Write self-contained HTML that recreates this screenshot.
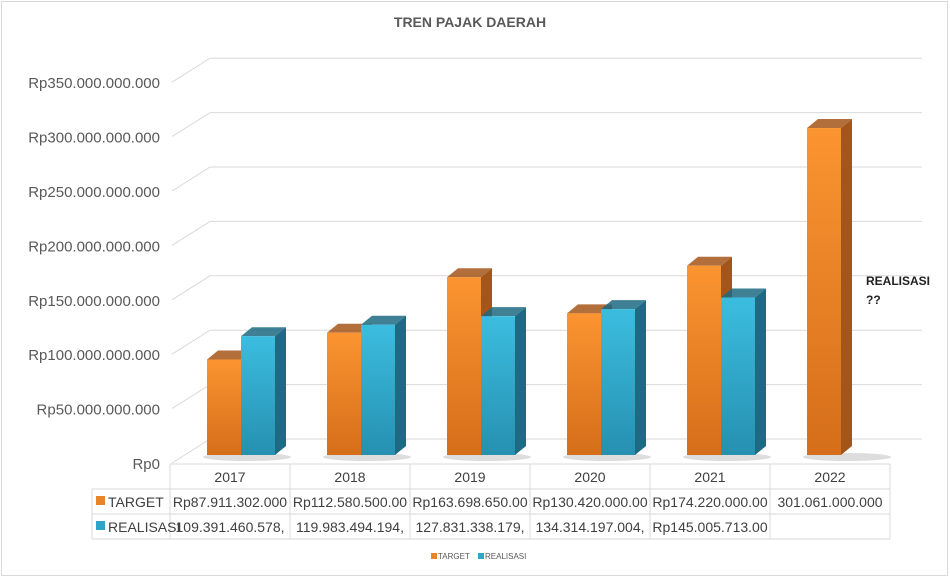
<!DOCTYPE html>
<html><head><meta charset="utf-8"><style>
html,body{margin:0;padding:0;background:#fff;}
body{width:950px;height:578px;overflow:hidden;font-family:"Liberation Sans",sans-serif;}
</style></head><body>
<svg id="chart" width="950" height="578" xmlns="http://www.w3.org/2000/svg">
<defs>
<linearGradient id="gO" x1="0" y1="0" x2="0" y2="1"><stop offset="0" stop-color="#fb9430"/><stop offset="1" stop-color="#d56e1a"/></linearGradient>
<linearGradient id="gB" x1="0" y1="0" x2="0" y2="1"><stop offset="0" stop-color="#3bbde0"/><stop offset="1" stop-color="#2690b0"/></linearGradient>
</defs>
<rect x="1.5" y="1.5" width="946" height="574" fill="#fff" stroke="#d9d9d9"/>
<text x="470" y="27" text-anchor="middle" font-size="14" font-weight="bold" fill="#595959">TREN PAJAK DAERAH</text>
<g id="grid"></g><g id="bars"></g><g id="table"></g>
<text x="866" y="285" font-size="12" font-weight="bold" fill="#222">REALISASI</text>
<text x="866" y="304" font-size="12" font-weight="bold" fill="#222">??</text>
<g>
<rect x="431" y="553" width="6" height="6" fill="#e8852a"/><text x="438" y="559" font-size="8" fill="#595959">TARGET</text>
<rect x="478" y="553" width="6" height="6" fill="#2fa5c8"/><text x="485" y="559" font-size="8" fill="#595959">REALISASI</text>
</g>
</svg>
<script>
const categories=['2017','2018','2019','2020','2021','2022'];
const targetValues=[87.911,112.58,163.699,130.42,174.22,301.061];
const realisasiValues=[109.391,119.983,127.831,134.314,145.006,null];
const targetLabels=['Rp87.911.302.000','Rp112.580.500.00','Rp163.698.650.00','Rp130.420.000.00','Rp174.220.000.00','301.061.000.000'];
const realisasiLabels=['109.391.460.578,','119.983.494.194,','127.831.338.179,','134.314.197.004,','Rp145.005.713.00',''];
const yTicks=[0,50,100,150,200,250,300,350];
const yTickLabels=['Rp0','Rp50.000.000.000','Rp100.000.000.000','Rp150.000.000.000','Rp200.000.000.000','Rp250.000.000.000','Rp300.000.000.000','Rp350.000.000.000'];
const NS='http://www.w3.org/2000/svg';
function mk(t,a,p){const e=document.createElementNS(NS,t);for(const k in a)e.setAttribute(k,a[k]);p.appendChild(e);return e;}
const yBack=v=>439-v*1.088;   // back wall
const yFront=v=>463-v*1.088;  // label
const yBar=v=>455-v*1.086;
const colX=i=>170+i*120;
const grid=document.getElementById('grid');
yTicks.forEach((v,i)=>{
  const l=mk('polyline',{points:`172,${yFront(v)} 210,${yBack(v)} 922,${yBack(v)}`,fill:'none',stroke:'#d9d9d9','stroke-width':1},grid);
  
  
  const t=mk('text',{x:160,y:yFront(v)+6,'text-anchor':'end','font-size':15,fill:'#595959'},grid);
  t.textContent=yTickLabels[i];
  
  
});
const bars=document.getElementById('bars');
function bar(x,v,fill,side,name){
  const g=mk('g',{},bars);
  
  
  const top=yBar(v),w=34,dx=11,dy=9;
  mk('polygon',{points:`${x+w},${top} ${x+w+dx},${top-dy} ${x+w+dx},455-dy ${x+w},455`.replace('455-dy',455-dy),fill:side},g);
  mk('polygon',{points:`${x},${top} ${x+dx},${top-dy} ${x+w+dx},${top-dy} ${x+w},${top}`,fill:side,opacity:0.85},g);
  mk('rect',{x:x,y:top,width:w,height:455-top,fill:fill},g);
}
categories.forEach((c,i)=>{
  const x=207+i*120;
  mk('ellipse',{cx:x+40,cy:457,rx:44,ry:4,fill:'#bbb',opacity:0.5},bars);
  bar(x,targetValues[i],'url(#gO)','#a4561a','bar-target-'+c);
  if(realisasiValues[i]!=null) bar(x+34,realisasiValues[i],'url(#gB)','#1d6a82','bar-realisasi-'+c);
});
const tb=document.getElementById('table');
const rows=[464,489,514,539];
mk('line',{x1:92,y1:489,x2:890,y2:489,stroke:'#d9d9d9'},tb);
mk('line',{x1:92,y1:514,x2:890,y2:514,stroke:'#d9d9d9'},tb);
mk('line',{x1:92,y1:539,x2:890,y2:539,stroke:'#d9d9d9'},tb);
mk('line',{x1:170,y1:464,x2:890,y2:464,stroke:'#d9d9d9'},tb);
mk('line',{x1:92,y1:489,x2:92,y2:539,stroke:'#d9d9d9'},tb);
for(let i=0;i<=6;i++) mk('line',{x1:colX(i),y1:464,x2:colX(i),y2:539,stroke:'#d9d9d9'},tb);
const rl1=mk('g',{},tb);
mk('rect',{x:96,y:496,width:9,height:9,fill:'#e8852a'},rl1);
mk('text',{x:108,y:507,'font-size':14,fill:'#404040'},rl1).textContent='TARGET';
const rl2=mk('g',{},tb);
mk('rect',{x:96,y:521,width:9,height:9,fill:'#2fa5c8'},rl2);
mk('text',{x:108,y:532,'font-size':14,fill:'#404040'},rl2).textContent='REALISASI';
categories.forEach((c,i)=>{
  const cx=colX(i)+60;
  const a=mk('text',{x:cx,y:482,'text-anchor':'middle','font-size':14,fill:'#404040'},tb);a.textContent=c;
  
  const b=mk('text',{x:cx,y:507,'text-anchor':'middle','font-size':14,fill:'#404040'},tb);b.textContent=targetLabels[i];
  
  const d=mk('text',{x:cx,y:532,'text-anchor':'middle','font-size':14,fill:'#404040'},tb);d.textContent=realisasiLabels[i];
  
});
</script>
</body></html>
